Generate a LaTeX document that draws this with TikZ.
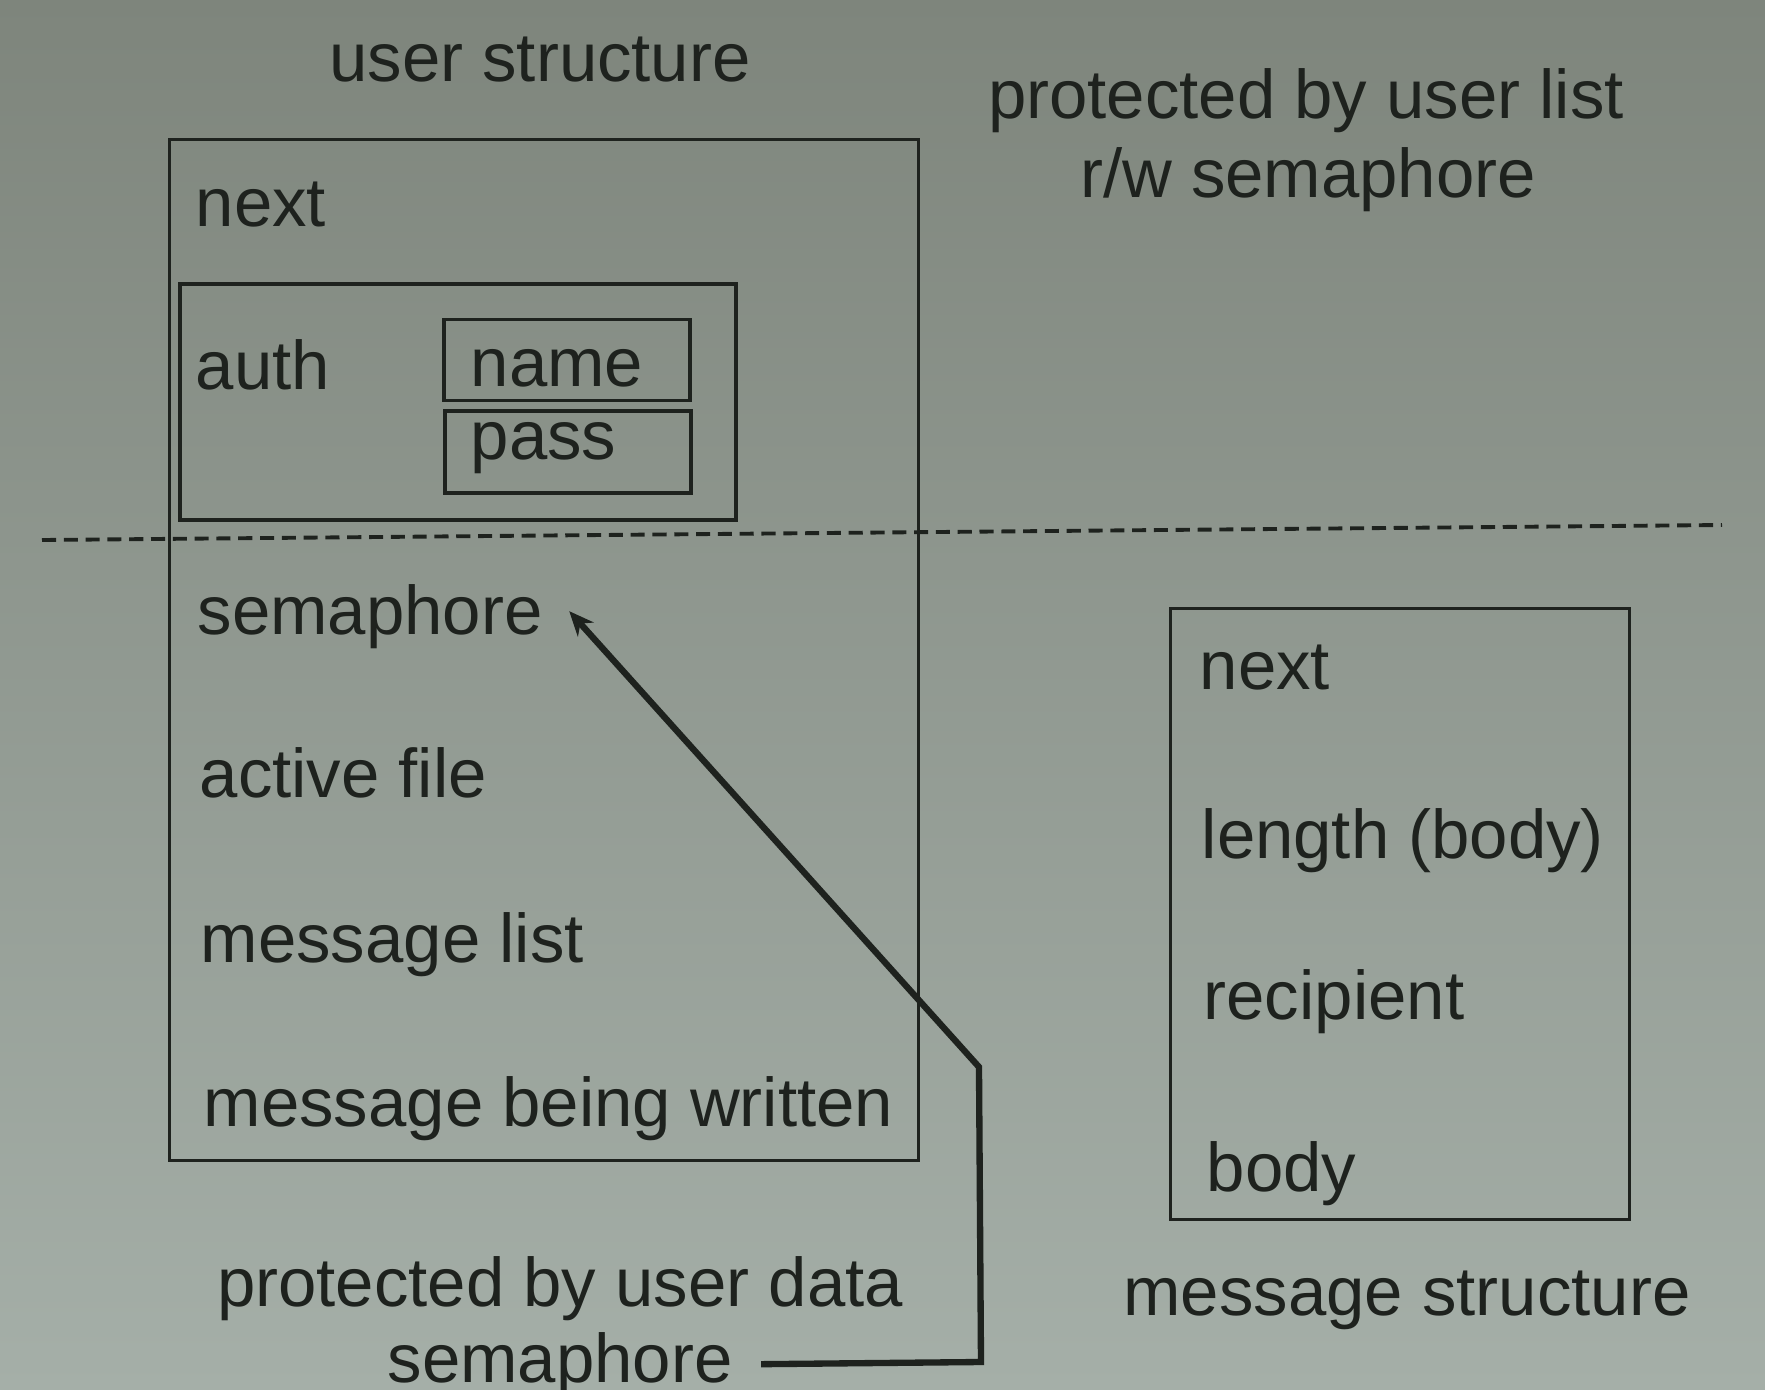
\documentclass[tikz,border=0pt]{standalone}
\usepackage{fontspec}
\setmainfont{Liberation Sans}
\usetikzlibrary{arrows.meta}
\definecolor{bgtop}{RGB}{126,133,124}
\definecolor{bgbot}{RGB}{165,175,168}
\definecolor{ink}{RGB}{30,34,30}
\begin{document}
\begin{tikzpicture}[x=0.01cm,y=-0.01cm]
\tikzset{b/.style={draw=ink,line width=0.8pt,inner sep=0pt,outer sep=0pt},
t/.style={text=ink,inner sep=0pt,font=\fontsize{19.6}{23}\selectfont}}
\shade[top color=bgtop,bottom color=bgbot](0,0)rectangle(1765,1390);
\useasboundingbox(0,0)rectangle(1765,1390);
%%Khung user structure
\node[b,minimum width=7.48cm,minimum height=10.2cm](U) at (544,650){};
\node[b,line width=1pt,minimum width=5.56cm,minimum height=2.36cm](A) at (458,402){};
\node[b,line width=1.1pt,minimum width=2.45cm,minimum height=0.81cm](N) at (567,360){};
\node[b,line width=1.1pt,minimum width=2.45cm,minimum height=0.82cm](P) at (568,452){};
\path(540,81)node[t,anchor=base](ut){user structure};
\path(195,226)node[t,anchor=base west](un){next}
(195,389)node[t,anchor=base west](ua){auth}
(470,386)node[t,anchor=base west](nn){name}
(470,459)node[t,anchor=base west](np){pass}
(197,634)node[t,anchor=base west](us){semaphore}
(199,797)node[t,anchor=base west](uf){active file}
(200,962)node[t,anchor=base west](ul){message list}
(203,1126)node[t,anchor=base west](uw){message being written};
%%Khung message structure
\node[b,minimum width=4.59cm,minimum height=6.1cm](M) at (1400,914){};
\path(1199,689)node[t,anchor=base west](mn){next}
(1201,858)node[t,anchor=base west](ml){length (body)}
(1203,1019)node[t,anchor=base west](mr){recipient}
(1206,1191)node[t,anchor=base west](mb){body}
(1407,1315)node[t,anchor=base](mt){message structure};
%%Chu thich
\path(1306,118)node[t,anchor=base](p1){protected by user list}
(1308,197)node[t,anchor=base](p2){r/w semaphore}
(560,1306)node[t,anchor=base](d1){protected by user data}
(560,1382)node[t,anchor=base](d2){semaphore};
\coordinate(L1) at (42,540);
\coordinate(L2) at (1722,525);
\draw[ink,line width=1.1pt,dash pattern=on 4pt off 2.2pt](L1)--(L2);
\coordinate(k1) at (981,1362);
\coordinate(k2) at (979,1067);
\draw[ink,line width=1.8pt,line join=miter,-{Stealth[length=7pt,width=6pt]}]
([xshift=0.28cm]d2.east)--(k1)--(k2)--([xshift=0.26cm,yshift=0.05cm]us.east);
\end{tikzpicture}
\end{document}
